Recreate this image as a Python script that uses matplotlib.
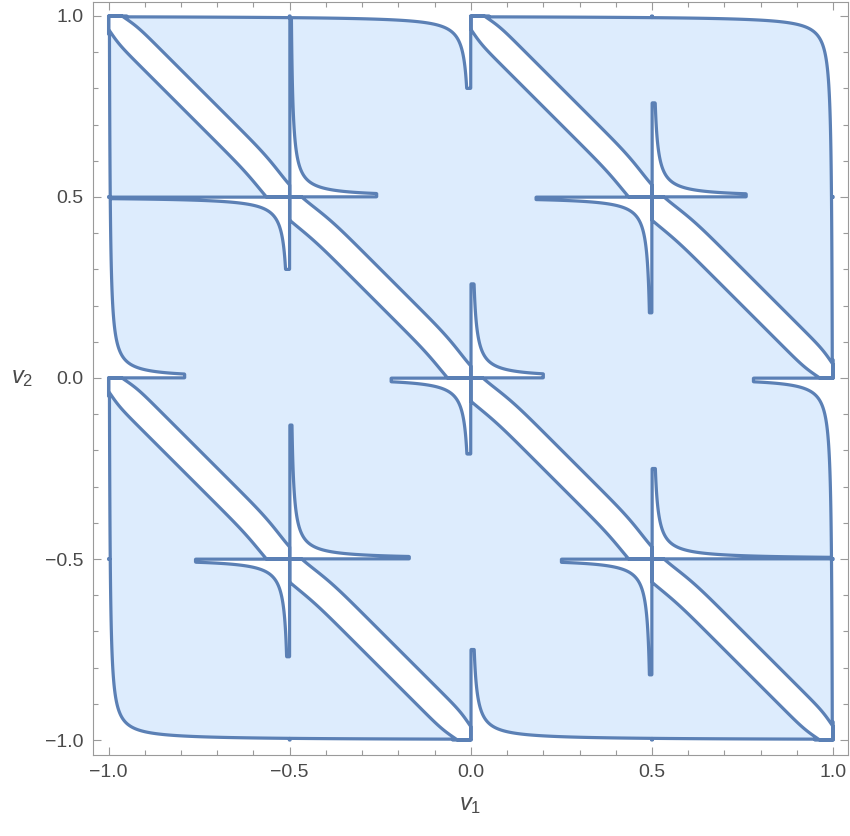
import numpy as np
import matplotlib
matplotlib.use('Agg')
import matplotlib.pyplot as plt

# points where the white bands (v1 + v2 = integer) meet the grid lines
cross_v1 = [0.0, 0.5, -0.5, -0.5, 0.5, 0.0, 1.0, -1.0, 0.0, 1.0, -1.0, -1.0, 1.0]
cross_v2 = [0.0, 0.5, 0.5, -0.5, -0.5, 1.0, 0.0, 0.0, -1.0, 1.0, -1.0, 1.0, -1.0]
# lengths of the thin hyperbolic slivers at each point (0 = not present)
arm_right = [0.20, 0.26, 0.24, 0.33, 0.50, 0.0, 0.0, 0.21, 0.95, 0.0, 0.95, 0.0, 0.0]
arm_up = [0.26, 0.26, 0.50, 0.37, 0.25, 0.0, 0.0, 0.95, 0.25, 0.0, 0.95, 0.0, 0.0]
arm_left = [0.22, 0.32, 0.50, 0.26, 0.25, 0.95, 0.22, 0.0, 0.0, 0.95, 0.0, 0.0, 0.0]
arm_down = [0.21, 0.32, 0.20, 0.27, 0.32, 0.20, 0.95, 0.0, 0.0, 0.95, 0.0, 0.0, 0.0]

hyp_c = 0.0023      # dx*dy limit of the slivers
band_w = 0.051      # half width of the diagonal bands
band_shift = -0.02  # band offset close to the inner crossings
grid_lines = [-0.5, 0.0, 0.5]

tick_major = [-1.0, -0.5, 0.0, 0.5, 1.0]
tick_labels = ['\u22121.0', '\u22120.5', '0.0', '0.5', '1.0']

fill_col = '#DDECFD'
line_col = '#5B80B5'
frame_col = '#9A9A9A'
text_col = '#4A4A4A'

plt.rcParams['font.family'] = ['Liberation Sans', 'DejaVu Sans']
plt.rcParams['mathtext.fontset'] = 'custom'
plt.rcParams['mathtext.rm'] = 'Liberation Sans'
plt.rcParams['mathtext.it'] = 'Liberation Sans:italic'


def region_function():
    h = 0.001
    v = np.round(np.arange(-1.0, 1.0 + h / 2, h), 6)
    V1, V2 = np.meshgrid(v, v)

    # diagonal bands, offset near inner crossings, narrower at the frame
    r2 = np.full(V1.shape, 10.0)
    r2b = np.full(V1.shape, 10.0)
    for px, py in zip(cross_v1, cross_v2):
        d2 = (V1 - px) ** 2 + (V2 - py) ** 2
        if abs(px) < 1 and abs(py) < 1:
            r2 = np.minimum(r2, d2)
        else:
            r2b = np.minimum(r2b, d2)
    s = V1 + V2 - np.round(V1 + V2)
    s = s - band_shift * np.exp(-r2 / 0.1 ** 2)
    w = band_w * (1 - 0.4 * np.exp(-r2b / 0.06 ** 2))
    F = w - np.abs(s)
    d_frame = np.minimum(1 - np.abs(V1), 1 - np.abs(V2))
    F = np.minimum(F, d_frame - 0.0004)

    # hyperbolic slivers in the 1st and 3rd quadrant of each crossing
    for i in range(len(cross_v1)):
        dx = V1 - cross_v1[i]
        dy = V2 - cross_v2[i]
        scale = np.abs(dx) + np.abs(dy) + 1e-3
        if arm_right[i] > 0 and arm_up[i] > 0:
            q = np.minimum.reduce([dx, dy, (hyp_c - dx * dy) / scale,
                                   arm_right[i] - dx, arm_up[i] - dy])
            F = np.maximum(F, q)
        if arm_left[i] > 0 and arm_down[i] > 0:
            q = np.minimum.reduce([-dx, -dy, (hyp_c - dx * dy) / scale,
                                   arm_left[i] + dx, arm_down[i] + dy])
            F = np.maximum(F, q)

    F = F + 1e-6
    d1 = np.min([np.abs(V1 - g) for g in grid_lines], axis=0)
    d2 = np.min([np.abs(V2 - g) for g in grid_lines], axis=0)
    F = np.minimum(F, np.minimum(d1, d2) - 0.0004)

    # white padding outside the square
    vp = np.concatenate([[-1.0 - 2 * h], v, [1.0 + 2 * h]])
    Fp = np.ones((len(vp), len(vp)))
    Fp[1:-1, 1:-1] = F
    return vp, Fp


def main():
    vp, Fp = region_function()

    fig = plt.figure(figsize=(8.5, 8.36), dpi=100)
    ax = fig.add_axes([93 / 850, 81.5 / 836, 755 / 850, 753 / 836])

    ax.contourf(vp, vp, Fp, levels=[-10, 0], colors=[fill_col])
    cs = ax.contour(vp, vp, Fp, levels=[0], colors=[line_col], linewidths=2.3)
    cs.set_joinstyle('round')
    cs.set_capstyle('round')

    ax.set_xlim(-1.043, 1.041)
    ax.set_ylim(-1.04, 1.04)

    ax.set_xticks(tick_major)
    ax.set_xticklabels(tick_labels)
    ax.set_yticks(tick_major)
    ax.set_yticklabels(tick_labels)
    minor = [t / 10 for t in range(-10, 11) if t % 5 != 0]
    ax.set_xticks(minor, minor=True)
    ax.set_yticks(minor, minor=True)
    ax.tick_params(which='both', direction='in', top=True, right=True,
                   color=frame_col, width=0.8, labelcolor=text_col,
                   labelsize=14, pad=7)
    ax.tick_params(which='major', length=6)
    ax.tick_params(which='minor', length=3.5)
    for sp in ax.spines.values():
        sp.set_color(frame_col)
        sp.set_linewidth(0.8)

    ax.set_xlabel(r'$v_1$', fontsize=17, color=text_col, labelpad=9)
    ax.set_ylabel(r'$v_2$', fontsize=17, color=text_col, rotation=0,
                  labelpad=16, va='center')

    fig.savefig('out.png', dpi=100)


if __name__ == '__main__':
    main()
